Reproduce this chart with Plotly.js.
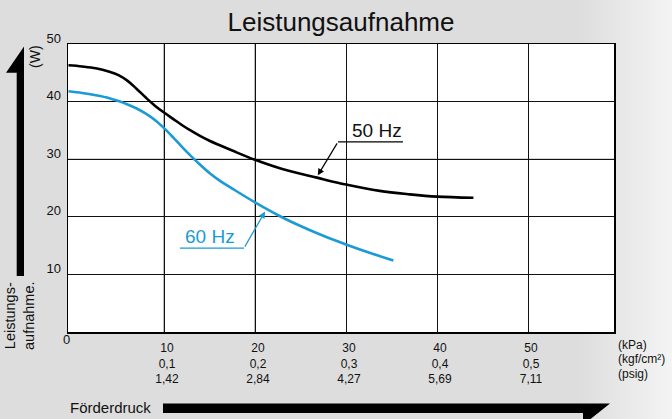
<!DOCTYPE html>
<html>
<head>
<meta charset="utf-8">
<script src="https://cdn.plot.ly/plotly-3.0.1.min.js"></script>
<style>
html,body{margin:0;padding:0;}
body{width:672px;height:419px;overflow:hidden;background:linear-gradient(to right,#dddddd 0%,#dddddd 86%,#f4f4f4 100%);}
#chart{width:672px;height:419px;}
</style>
</head>
<body>
<div id="chart"></div>
<script>
// Data (pressure in kPa, power in W)
const pressure50 = [-0.5, 1, 2.5, 4, 5, 6, 7, 8, 9, 10, 11, 12, 13, 14, 15, 16, 17.5, 20, 23, 26.8, 30, 33.7, 37, 40, 44];
const power50    = [46.3, 46.1, 45.8, 45.2, 44.6, 43.6, 42.2, 40.7, 39.3, 38.1, 37.0, 35.9, 34.9, 34.0, 33.2, 32.5, 31.5, 29.9, 28.3, 26.8, 25.6, 24.5, 23.9, 23.5, 23.3];
const pressure60 = [-0.5, 1, 2.5, 4, 5, 6, 7, 8, 9, 10, 11, 12, 13, 14, 15, 16, 17.5, 20, 22.75, 25, 27.5, 30, 32.5, 35.2];
const power60    = [41.8, 41.5, 41.1, 40.6, 40.1, 39.5, 38.8, 37.9, 36.8, 35.4, 33.8, 32.1, 30.5, 29.0, 27.6, 26.4, 24.9, 22.5, 20.1, 18.4, 16.7, 15.2, 13.8, 12.4];
const xTickVals  = [10, 20, 30, 40, 50];
const kPaLabels  = ['10', '20', '30', '40', '50'];
const kgfLabels  = ['0,1', '0,2', '0,3', '0,4', '0,5'];
const psigLabels = ['1,42', '2,84', '4,27', '5,69', '7,11'];
const yTickVals  = [10, 20, 30, 40, 50];
const unitLabels = ['(kPa)', '(kgf/cm²)', '(psig)'];

const FONT = 'Liberation Sans, Arial, Helvetica, sans-serif';
const BLUE = '#1b9ad6';
// plot area in px
const L = 68, R = 614, T = 44, B = 332;
const px = x => (x - L) / (R - L);
const py = y => (B - y) / (B - T);

const traces = [
  {x: pressure50, y: power50, mode: 'lines', line: {color: '#000', width: 2.6, shape: 'spline', smoothing: 1}, hoverinfo: 'skip', name: '50 Hz'},
  {x: pressure60, y: power60, mode: 'lines', line: {color: BLUE, width: 2.6, shape: 'spline', smoothing: 1}, hoverinfo: 'skip', name: '60 Hz'}
];

function poly(pts){ return 'M' + pts.map(p => px(p[0]) + ',' + py(p[1])).join(' L') + ' Z'; }

const shapes = [
  // gray grid line overrides
  {type: 'line', xref: 'x', yref: 'paper', x0: 10, x1: 10, y0: 0, y1: 1, line: {color: '#777', width: 1}, layer: 'below'},
  {type: 'line', xref: 'x', yref: 'paper', x0: 20, x1: 20, y0: 0, y1: 1, line: {color: '#777', width: 1}, layer: 'below'},
  {type: 'line', xref: 'paper', yref: 'y', x0: 0, x1: 1, y0: 30, y1: 30, line: {color: '#777', width: 1}, layer: 'below'},
  // vertical arrow
  {type: 'path', xref: 'paper', yref: 'paper', path: poly([[24,46.5],[24,276],[16.7,276],[16.7,72.7],[6,72.7]]), fillcolor: '#000', line: {width: 0}},
  // horizontal arrow
  {type: 'path', xref: 'paper', yref: 'paper', path: poly([[163,403.5],[610,403.5],[583,425],[583,413],[163,413]]), fillcolor: '#000', line: {width: 0}},
  // label underlines
  {type: 'line', xref: 'x', yref: 'y', x0: 29.12, x1: 36.26, y0: 33.0, y1: 33.0, line: {color: '#000', width: 1.2}},
  {type: 'line', xref: 'x', yref: 'y', x0: 11.76, x1: 18.79, y0: 14.56, y1: 14.56, line: {color: BLUE, width: 1.2}}
];

const annotations = [
  {xref: 'paper', yref: 'paper', x: px(66), y: py(339.5), text: '0', showarrow: false, xanchor: 'center', yanchor: 'middle', font: {family: FONT, size: 13, color: '#111'}},
  {xref: 'paper', yref: 'paper', x: px(110), y: py(407.5), text: 'Förderdruck', showarrow: false, xanchor: 'center', yanchor: 'middle', font: {family: FONT, size: 15, color: '#111'}},
  {xref: 'paper', yref: 'paper', x: px(19), y: py(316), text: 'Leistungs-<br>aufnahme.', textangle: -90, showarrow: false, xanchor: 'center', yanchor: 'middle', font: {family: FONT, size: 14.5, color: '#111'}},
  {xref: 'paper', yref: 'paper', x: px(35), y: py(57), text: '(W)', textangle: -90, showarrow: false, xanchor: 'center', yanchor: 'middle', font: {family: FONT, size: 14, color: '#111'}},
  {xref: 'x', yref: 'y', x: 33.4, y: 34.9, text: '50 Hz', showarrow: false, xanchor: 'center', yanchor: 'middle', font: {family: FONT, size: 19, color: '#111'}},
  {xref: 'x', yref: 'y', x: 15.05, y: 16.5, text: '60 Hz', showarrow: false, xanchor: 'center', yanchor: 'middle', font: {family: FONT, size: 19, color: BLUE}},
  {xref: 'x', yref: 'y', x: 26.9, y: 27.2, ax: 29.12, ay: 33.0, axref: 'x', ayref: 'y', text: '', showarrow: true, arrowhead: 2, arrowsize: 1.1, arrowwidth: 1.2, arrowcolor: '#000', standoff: 0},
  {xref: 'x', yref: 'y', x: 21.1, y: 20.9, ax: 18.79, ay: 14.56, axref: 'x', ayref: 'y', text: '', showarrow: true, arrowhead: 2, arrowsize: 1.1, arrowwidth: 1.2, arrowcolor: BLUE, standoff: 0}
];
const unitY = [344.5, 359.3, 374];
unitLabels.forEach((t, i) => annotations.push({xref: 'paper', yref: 'paper', x: px(616), y: py(unitY[i]), text: t, showarrow: false, xanchor: 'left', yanchor: 'middle', font: {family: FONT, size: 12, color: '#111'}}));

const layout = {
  width: 672, height: 419,
  margin: {l: L, r: 672 - R, t: T, b: 419 - B, pad: 0},
  paper_bgcolor: 'rgba(0,0,0,0)',
  plot_bgcolor: '#fff',
  showlegend: false,
  title: {text: 'Leistungsaufnahme', font: {family: FONT, size: 26, color: '#111'}, x: 0.5, xref: 'paper', y: 1 - 21.5 / 419, yref: 'container', yanchor: 'middle'},
  xaxis: {
    range: [-0.55, 59.45], tickvals: xTickVals,
    ticktext: xTickVals.map((v, i) => kPaLabels[i] + '<br>' + kgfLabels[i] + '<br>' + psigLabels[i]),
    ticks: '', showgrid: true, gridcolor: '#111', gridwidth: 1, zeroline: false,
    showline: true, mirror: true, linecolor: '#000', linewidth: 1.5,
    tickfont: {family: FONT, size: 12, color: '#111'}, ticklabelshift: 3, ticklabelstandoff: 4, fixedrange: true
  },
  yaxis: {
    range: [0, 50], tickvals: yTickVals, ticks: '', showgrid: true, gridcolor: '#111', gridwidth: 1, zeroline: false,
    showline: true, mirror: true, linecolor: '#000', linewidth: 1.5,
    tickfont: {family: FONT, size: 13, color: '#111'}, ticklabelshift: -6, ticklabelstandoff: 3, fixedrange: true
  },
  shapes: shapes,
  annotations: annotations
};

Plotly.newPlot('chart', traces, layout, {displayModeBar: false, staticPlot: true});
</script>
</body>
</html>
